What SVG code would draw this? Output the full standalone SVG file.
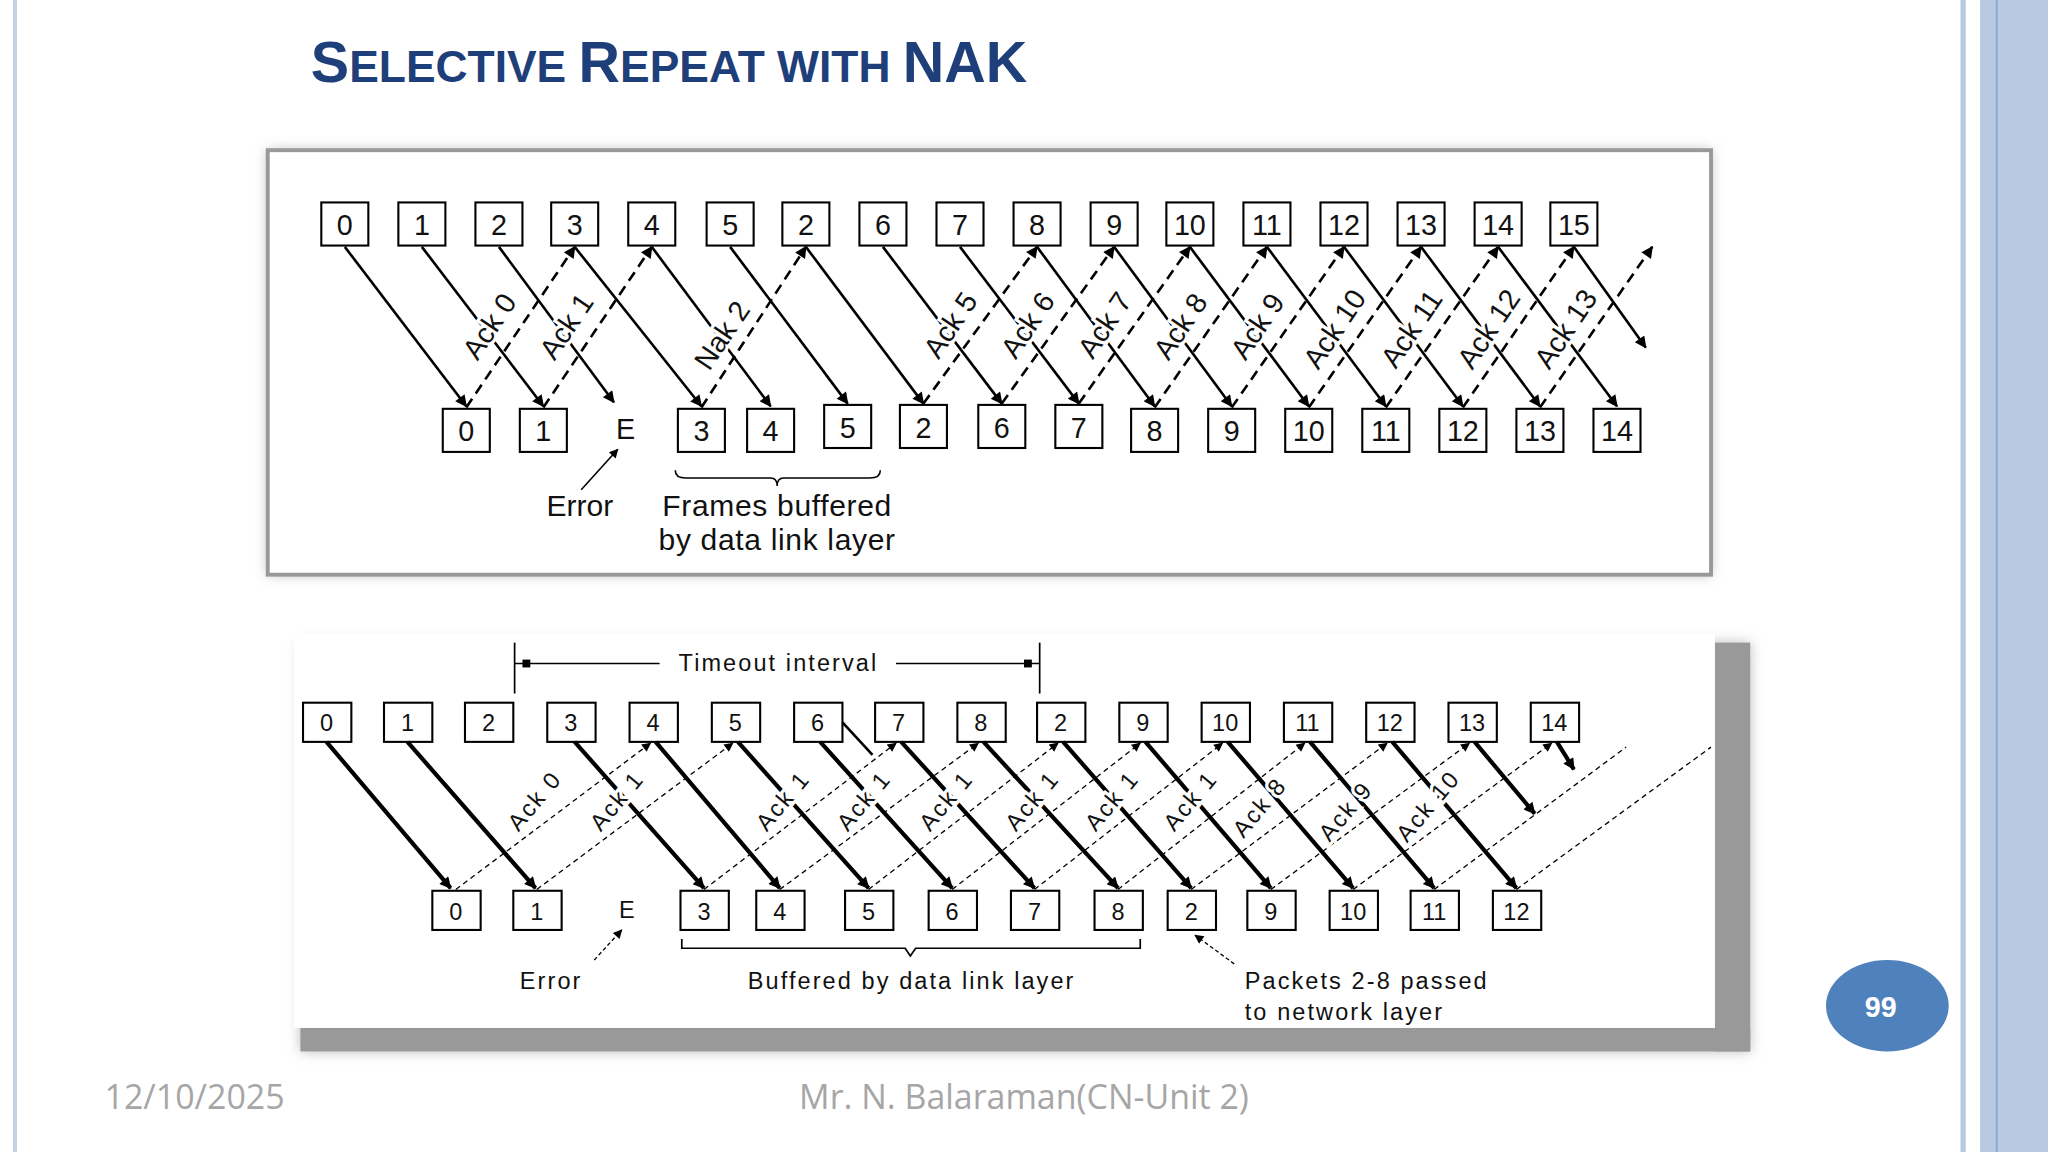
<svg xmlns="http://www.w3.org/2000/svg" width="2048" height="1152" viewBox="0 0 2048 1152">
<style>
.box{fill:#fff;stroke:#000;stroke-width:1.6}
.t1{font-family:"Liberation Sans",Arial,sans-serif;font-size:22px;fill:#111;text-anchor:middle}
.t2{font-family:"Liberation Sans",Arial,sans-serif;font-size:18px;fill:#111;text-anchor:middle}
.sp{letter-spacing:1.6px}
.d1{stroke:#000;stroke-width:2;fill:none}
.a1{stroke:#000;stroke-width:2;stroke-dasharray:8,5;fill:none}
.d2{stroke:#000;stroke-width:3.2;fill:none}
.a2{stroke:#000;stroke-width:1;stroke-dasharray:4,3;fill:none}
.lbl{paint-order:stroke;stroke:#fff;stroke-width:5px}
.foot{font-family:"Open Sans","Liberation Sans",sans-serif;font-size:26px;fill:#a6a6a6}
</style>
<defs>
<marker id="ah" viewBox="0 0 10 10" refX="9" refY="5" markerWidth="12" markerHeight="9" markerUnits="userSpaceOnUse" orient="auto"><path d="M0,0L10,5L0,10z" fill="#000"/></marker>
<marker id="ah2" viewBox="0 0 10 10" refX="9" refY="5" markerWidth="9" markerHeight="7" markerUnits="userSpaceOnUse" orient="auto"><path d="M0,0L10,5L0,10z" fill="#000"/></marker>
<filter id="sh" x="-5%" y="-5%" width="110%" height="115%"><feGaussianBlur stdDeviation="5"/></filter>
</defs>
<rect width="2048" height="1152" fill="#fff"/>
<g transform="scale(1.306122)">
<rect x="10" y="0" width="3" height="882" fill="#c3d1e6"/>
<rect x="1501" y="0" width="4" height="882" fill="#b9c9e2"/>
<rect x="1516" y="0" width="52" height="882" fill="#b9c9e2"/>
<rect x="1528" y="0" width="1.5" height="882" fill="#8fa8cc"/>
<text x="238" y="63" font-family="'Liberation Sans',Arial,sans-serif" font-weight="bold" fill="#1f3f7a"><tspan font-size="44">S</tspan><tspan font-size="34">ELECTIVE </tspan><tspan font-size="44">R</tspan><tspan font-size="34">EPEAT WITH </tspan><tspan font-size="44"> NAK</tspan></text>

<g id="panel-top">
<rect x="205" y="115" width="1105" height="325" fill="#bbb" filter="url(#sh)"/>
<rect x="205" y="115" width="1105" height="325" fill="#fff" stroke="#999" stroke-width="3"/>
</g>
<g id="top-senders" class="t1">
<rect class="box" x="246" y="155" width="36" height="33"/><text x="264" y="180">0</text>
<rect class="box" x="305" y="155" width="36" height="33"/><text x="323" y="180">1</text>
<rect class="box" x="364" y="155" width="36" height="33"/><text x="382" y="180">2</text>
<rect class="box" x="422" y="155" width="36" height="33"/><text x="440" y="180">3</text>
<rect class="box" x="481" y="155" width="36" height="33"/><text x="499" y="180">4</text>
<rect class="box" x="541" y="155" width="36" height="33"/><text x="559" y="180">5</text>
<rect class="box" x="599" y="155" width="36" height="33"/><text x="617" y="180">2</text>
<rect class="box" x="658" y="155" width="36" height="33"/><text x="676" y="180">6</text>
<rect class="box" x="717" y="155" width="36" height="33"/><text x="735" y="180">7</text>
<rect class="box" x="776" y="155" width="36" height="33"/><text x="794" y="180">8</text>
<rect class="box" x="835" y="155" width="36" height="33"/><text x="853" y="180">9</text>
<rect class="box" x="893" y="155" width="36" height="33"/><text x="911" y="180">10</text>
<rect class="box" x="952" y="155" width="36" height="33"/><text x="970" y="180">11</text>
<rect class="box" x="1011" y="155" width="36" height="33"/><text x="1029" y="180">12</text>
<rect class="box" x="1070" y="155" width="36" height="33"/><text x="1088" y="180">13</text>
<rect class="box" x="1129" y="155" width="36" height="33"/><text x="1147" y="180">14</text>
<rect class="box" x="1187" y="155" width="36" height="33"/><text x="1205" y="180">15</text>
</g>
<g id="top-receivers" class="t1">
<rect class="box" x="339" y="313" width="36" height="33"/><text x="357" y="338">0</text>
<rect class="box" x="398" y="313" width="36" height="33"/><text x="416" y="338">1</text>
<text x="479" y="336">E</text>
<rect class="box" x="519" y="313" width="36" height="33"/><text x="537" y="338">3</text>
<rect class="box" x="572" y="313" width="36" height="33"/><text x="590" y="338">4</text>
<rect class="box" x="631" y="310" width="36" height="33"/><text x="649" y="335">5</text>
<rect class="box" x="689" y="310" width="36" height="33"/><text x="707" y="335">2</text>
<rect class="box" x="749" y="310" width="36" height="33"/><text x="767" y="335">6</text>
<rect class="box" x="808" y="310" width="36" height="33"/><text x="826" y="335">7</text>
<rect class="box" x="866" y="313" width="36" height="33"/><text x="884" y="338">8</text>
<rect class="box" x="925" y="313" width="36" height="33"/><text x="943" y="338">9</text>
<rect class="box" x="984" y="313" width="36" height="33"/><text x="1002" y="338">10</text>
<rect class="box" x="1043" y="313" width="36" height="33"/><text x="1061" y="338">11</text>
<rect class="box" x="1102" y="313" width="36" height="33"/><text x="1120" y="338">12</text>
<rect class="box" x="1161" y="313" width="36" height="33"/><text x="1179" y="338">13</text>
<rect class="box" x="1220" y="313" width="36" height="33"/><text x="1238" y="338">14</text>
</g>
<g id="top-connectors">
<g class="d1" marker-end="url(#ah)">
<line x1="264" y1="189" x2="357" y2="311"/><line x1="323" y1="189" x2="416" y2="311"/>
<line x1="382" y1="189" x2="470" y2="308"/><line x1="440" y1="189" x2="537" y2="311"/>
<line x1="499" y1="189" x2="590" y2="311"/><line x1="559" y1="189" x2="649" y2="309"/>
<line x1="617" y1="189" x2="707" y2="309"/><line x1="676" y1="189" x2="767" y2="309"/>
<line x1="735" y1="189" x2="826" y2="309"/><line x1="794" y1="189" x2="884" y2="311"/>
<line x1="853" y1="189" x2="943" y2="311"/><line x1="911" y1="189" x2="1002" y2="311"/>
<line x1="970" y1="189" x2="1061" y2="311"/><line x1="1029" y1="189" x2="1120" y2="311"/>
<line x1="1088" y1="189" x2="1179" y2="311"/><line x1="1147" y1="189" x2="1238" y2="311"/>
<line x1="1205" y1="189" x2="1260" y2="266"/>
</g>
<g class="a1" marker-end="url(#ah)">
<line x1="357" y1="312" x2="440" y2="189"/><line x1="416" y1="312" x2="499" y2="189"/>
<line x1="537" y1="312" x2="617" y2="189"/><line x1="707" y1="309" x2="794" y2="189"/>
<line x1="767" y1="309" x2="853" y2="189"/><line x1="826" y1="309" x2="911" y2="189"/>
<line x1="884" y1="312" x2="970" y2="189"/><line x1="943" y1="312" x2="1029" y2="189"/>
<line x1="1002" y1="312" x2="1088" y2="189"/><line x1="1061" y1="312" x2="1147" y2="189"/>
<line x1="1120" y1="312" x2="1205" y2="189"/><line x1="1179" y1="312" x2="1265" y2="189"/>
</g>
<line x1="445" y1="375" x2="473" y2="344" stroke="#000" stroke-width="1.2" marker-end="url(#ah2)"/>
<path d="M517,360 Q517,366 525,366 L590,366 Q595,366 595,372 Q595,366 600,366 L666,366 Q674,366 674,360" fill="none" stroke="#000" stroke-width="1.2"/>
</g>
<g id="top-labels" class="t1">
<text class="lbl" transform="translate(381,254) rotate(-56)">Ack 0</text>
<text class="lbl" transform="translate(440,254) rotate(-56)">Ack 1</text>
<text class="lbl" transform="translate(559,261) rotate(-56)">Nak 2</text>
<text class="lbl" transform="translate(734,253) rotate(-56)">Ack 5</text>
<text class="lbl" transform="translate(793,253) rotate(-56)">Ack 6</text>
<text class="lbl" transform="translate(852,253) rotate(-56)">Ack 7</text>
<text class="lbl" transform="translate(910,254) rotate(-56)">Ack 8</text>
<text class="lbl" transform="translate(969,254) rotate(-56)">Ack 9</text>
<text class="lbl" transform="translate(1028,256) rotate(-56)">Ack 10</text>
<text class="lbl" transform="translate(1087,256) rotate(-56)">Ack 11</text>
<text class="lbl" transform="translate(1146,256) rotate(-56)">Ack 12</text>
<text class="lbl" transform="translate(1205,256) rotate(-56)">Ack 13</text>
<text x="444" y="395" font-size="23">Error</text>
<text x="595" y="395" font-size="23" letter-spacing="0.5">Frames buffered</text>
<text x="595" y="421" font-size="23" letter-spacing="0.5">by data link layer</text>
</g>

<g id="panel-bottom">
<rect x="230" y="492" width="1110" height="313" fill="#bbb" filter="url(#sh)"/>
<rect x="1313" y="492" width="27" height="313" fill="#999"/>
<rect x="230" y="787" width="1110" height="18" fill="#999"/>
<rect x="225" y="485" width="1088" height="302" fill="#fff"/>
</g>
<g id="bottom-senders" class="t2">
<rect class="box" x="232" y="538" width="37" height="30"/><text x="250" y="560">0</text>
<rect class="box" x="294" y="538" width="37" height="30"/><text x="312" y="560">1</text>
<rect class="box" x="356" y="538" width="37" height="30"/><text x="374" y="560">2</text>
<rect class="box" x="419" y="538" width="37" height="30"/><text x="437" y="560">3</text>
<rect class="box" x="482" y="538" width="37" height="30"/><text x="500" y="560">4</text>
<rect class="box" x="545" y="538" width="37" height="30"/><text x="563" y="560">5</text>
<rect class="box" x="608" y="538" width="37" height="30"/><text x="626" y="560">6</text>
<rect class="box" x="670" y="538" width="37" height="30"/><text x="688" y="560">7</text>
<rect class="box" x="733" y="538" width="37" height="30"/><text x="751" y="560">8</text>
<rect class="box" x="794" y="538" width="37" height="30"/><text x="812" y="560">2</text>
<rect class="box" x="857" y="538" width="37" height="30"/><text x="875" y="560">9</text>
<rect class="box" x="920" y="538" width="37" height="30"/><text x="938" y="560">10</text>
<rect class="box" x="983" y="538" width="37" height="30"/><text x="1001" y="560">11</text>
<rect class="box" x="1046" y="538" width="37" height="30"/><text x="1064" y="560">12</text>
<rect class="box" x="1109" y="538" width="37" height="30"/><text x="1127" y="560">13</text>
<rect class="box" x="1172" y="538" width="37" height="30"/><text x="1190" y="560">14</text>
</g>
<g id="bottom-receivers" class="t2">
<rect class="box" x="331" y="682" width="37" height="30"/><text x="349" y="704">0</text>
<rect class="box" x="393" y="682" width="37" height="30"/><text x="411" y="704">1</text>
<text x="480" y="703">E</text>
<rect class="box" x="521" y="682" width="37" height="30"/><text x="539" y="704">3</text>
<rect class="box" x="579" y="682" width="37" height="30"/><text x="597" y="704">4</text>
<rect class="box" x="647" y="682" width="37" height="30"/><text x="665" y="704">5</text>
<rect class="box" x="711" y="682" width="37" height="30"/><text x="729" y="704">6</text>
<rect class="box" x="774" y="682" width="37" height="30"/><text x="792" y="704">7</text>
<rect class="box" x="838" y="682" width="37" height="30"/><text x="856" y="704">8</text>
<rect class="box" x="894" y="682" width="37" height="30"/><text x="912" y="704">2</text>
<rect class="box" x="955" y="682" width="37" height="30"/><text x="973" y="704">9</text>
<rect class="box" x="1018" y="682" width="37" height="30"/><text x="1036" y="704">10</text>
<rect class="box" x="1080" y="682" width="37" height="30"/><text x="1098" y="704">11</text>
<rect class="box" x="1143" y="682" width="37" height="30"/><text x="1161" y="704">12</text>
</g>
<g id="bottom-connectors">
<g stroke="#000" stroke-width="1.3" fill="none">
<line x1="394" y1="492" x2="394" y2="531"/><line x1="796" y1="492" x2="796" y2="531"/>
<line x1="394" y1="508" x2="505" y2="508"/><line x1="686" y1="508" x2="796" y2="508"/>
</g>
<rect x="400" y="505" width="6" height="6"/><rect x="784" y="505" width="6" height="6"/>
<g class="d2" marker-end="url(#ah)">
<line x1="250" y1="568" x2="345" y2="680"/><line x1="312" y1="568" x2="410" y2="680"/>
<line x1="440" y1="568" x2="539" y2="680"/><line x1="502" y1="568" x2="597" y2="680"/>
<line x1="565" y1="568" x2="665" y2="680"/><line x1="628" y1="568" x2="729" y2="680"/>
<line x1="690" y1="568" x2="792" y2="680"/><line x1="753" y1="568" x2="856" y2="680"/>
<line x1="814" y1="568" x2="912" y2="680"/><line x1="877" y1="568" x2="973" y2="680"/>
<line x1="940" y1="568" x2="1036" y2="680"/><line x1="1003" y1="568" x2="1098" y2="680"/>
<line x1="1066" y1="568" x2="1161" y2="680"/><line x1="1129" y1="568" x2="1175" y2="623"/>
<line x1="1192" y1="568" x2="1205" y2="589"/>
</g>
<line x1="645" y1="553" x2="668" y2="578" stroke="#000" stroke-width="2"/>
<g class="a2" marker-end="url(#ah2)">
<line x1="349" y1="681" x2="498" y2="569"/><line x1="411" y1="681" x2="561" y2="569"/>
<line x1="539" y1="681" x2="686" y2="569"/><line x1="597" y1="681" x2="749" y2="569"/>
<line x1="665" y1="681" x2="810" y2="569"/><line x1="729" y1="681" x2="873" y2="569"/>
<line x1="792" y1="681" x2="936" y2="569"/><line x1="856" y1="681" x2="999" y2="569"/>
<line x1="912" y1="681" x2="1062" y2="569"/><line x1="973" y1="681" x2="1125" y2="569"/>
<line x1="1036" y1="681" x2="1188" y2="569"/>
</g>
<g class="a2">
<line x1="1098" y1="681" x2="1245" y2="572"/><line x1="1161" y1="681" x2="1310" y2="572"/>
</g>
<line x1="455" y1="735" x2="476" y2="712" stroke="#000" stroke-width="1" stroke-dasharray="3,2" marker-end="url(#ah2)"/>
<line x1="945" y1="738" x2="915" y2="716" stroke="#000" stroke-width="1" stroke-dasharray="3,2" marker-end="url(#ah2)"/>
<path d="M522,719 L522,726 L693,726 L697,732 L701,726 L873,726 L873,719" fill="none" stroke="#000" stroke-width="1.3"/>
</g>
<g id="bottom-labels" class="t2">
<text class="lbl sp" x="596" y="514">Timeout interval</text>
<text class="lbl sp" transform="translate(414,617) rotate(-50)">Ack 0</text>
<text class="lbl sp" transform="translate(477,617) rotate(-50)">Ack 1</text>
<text class="lbl sp" transform="translate(604,617) rotate(-50)">Ack 1</text>
<text class="lbl sp" transform="translate(666,617) rotate(-50)">Ack 1</text>
<text class="lbl sp" transform="translate(729,617) rotate(-50)">Ack 1</text>
<text class="lbl sp" transform="translate(795,617) rotate(-50)">Ack 1</text>
<text class="lbl sp" transform="translate(856,617) rotate(-50)">Ack 1</text>
<text class="lbl sp" transform="translate(916,617) rotate(-50)">Ack 1</text>
<text class="lbl sp" transform="translate(969,622) rotate(-50)">Ack 8</text>
<text class="lbl sp" transform="translate(1035,625) rotate(-50)">Ack 9</text>
<text class="lbl sp" transform="translate(1098,621) rotate(-50)">Ack 10</text>
<text class="sp" x="422" y="757">Error</text>
<text class="sp" x="698" y="757">Buffered by data link layer</text>
<text class="sp" x="953" y="757" text-anchor="start">Packets 2-8 passed</text>
<text class="sp" x="953" y="781" text-anchor="start">to network layer</text>
</g>

<g id="footer">
<text class="foot" x="80" y="849">12/10/2025</text>
<text class="foot" x="784" y="849" text-anchor="middle">Mr. N. Balaraman(CN-Unit 2)</text>
<ellipse cx="1445" cy="770" rx="47" ry="35" fill="#4f81bd"/>
<text x="1440" y="779" font-family="'Liberation Sans',Arial,sans-serif" font-weight="bold" font-size="22" fill="#fff" text-anchor="middle">99</text>
</g>
</g>
</svg>
